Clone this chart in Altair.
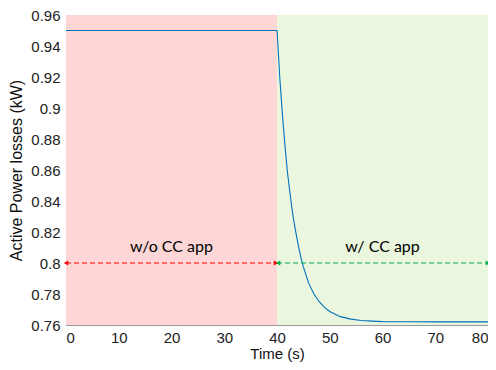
import altair as alt
import pandas as pd

# ---- data ----
time_s = [0, 40, 40.1, 40.5, 41, 41.5, 42, 42.5, 43, 43.5, 44, 44.5, 45, 46, 47, 48,
          49, 50, 52, 54, 56, 58, 60, 65, 70, 80]
loss_kw = [0.950, 0.950, 0.945, 0.921, 0.897, 0.876, 0.858, 0.844, 0.831, 0.821, 0.812,
           0.804, 0.7975, 0.787, 0.780, 0.775, 0.7714, 0.7687, 0.7654, 0.7638, 0.7629,
           0.7625, 0.7622, 0.7621, 0.762, 0.762]

region_start = [0, 40]
region_end = [40, 80]
region_color = ["#FFD6D6", "#EAF6DD"]
region_label = ["w/o CC app", "w/ CC app"]
label_x = [20, 60]
label_y = [0.8105, 0.8105]
arrow_color = ["#FF0000", "#00B050"]
arrow_y = 0.8

x_ticks = [0, 10, 20, 30, 40, 50, 60, 70, 80]
y_ticks = [0.76, 0.78, 0.80, 0.82, 0.84, 0.86, 0.88, 0.90, 0.92, 0.94, 0.96]

curve = pd.DataFrame({"t": time_s, "p": loss_kw})
regions = pd.DataFrame({"start": region_start, "end": region_end, "color": region_color,
                        "label": region_label, "lx": label_x, "ly": label_y,
                        "acolor": arrow_color})
heads = pd.DataFrame({
    "x": [0, 39.8, 40.2, 80],
    "shape": ["triangle-left", "triangle-right", "triangle-left", "triangle-right"],
    "color": [arrow_color[0], arrow_color[0], arrow_color[1], arrow_color[1]],
})

FONT = "Liberation Sans, Arial, Helvetica, sans-serif"
xs = alt.Scale(domain=[0, 80], nice=False, zero=False)
ys = alt.Scale(domain=[0.76, 0.96], nice=False, zero=False)


def x_axis():
    return alt.Axis(values=x_ticks, title="Time (s)", grid=True, ticks=False,
                    labelPadding=5, titlePadding=1, format="d", labelOverlap=False,
                    titleFontSize=15)


def y_axis():
    return alt.Axis(values=y_ticks, title="Active Power losses (kW)", grid=True,
                    ticks=False, labelPadding=6, titlePadding=6, format=".2~f",
                    labelOverlap=False, titleFontSize=16)


bg = alt.Chart(regions).mark_rect().encode(
    x=alt.X("start:Q", scale=xs, axis=x_axis()),
    x2="end:Q",
    y=alt.Y("y0:Q", scale=ys, axis=y_axis()),
    y2="y1:Q",
    color=alt.Color("color:N", scale=None),
).transform_calculate(y0="0.76", y1="0.96")

line = alt.Chart(curve).mark_line(color="#0072BD", strokeWidth=1.1).encode(
    x=alt.X("t:Q", scale=xs, axis=x_axis()),
    y=alt.Y("p:Q", scale=ys, axis=y_axis()),
)

arrows = alt.Chart(regions).mark_rule(strokeDash=[5, 3], strokeWidth=1.2).encode(
    x=alt.X("start:Q", scale=xs, axis=x_axis()),
    x2="end:Q",
    y=alt.Y("ay:Q", scale=ys, axis=y_axis()),
    color=alt.Color("acolor:N", scale=None),
).transform_calculate(ay=str(arrow_y))

arrowheads = alt.Chart(heads).mark_point(filled=True, size=26, opacity=1).encode(
    x=alt.X("x:Q", scale=xs, axis=x_axis()),
    y=alt.Y("ay:Q", scale=ys, axis=y_axis()),
    shape=alt.Shape("shape:N", scale=None),
    color=alt.Color("color:N", scale=None),
).transform_calculate(ay=str(arrow_y))

texts = alt.Chart(regions).mark_text(font="Lato", fontSize=16, color="#000",
                                     baseline="middle").encode(
    x=alt.X("lx:Q", scale=xs, axis=x_axis()),
    y=alt.Y("ly:Q", scale=ys, axis=y_axis()),
    text="label:N",
)

chart = alt.layer(bg, line, arrows, arrowheads, texts).properties(
    width=422, height=310,
    autosize=alt.AutoSizeParams(type="none"),
    padding={"left": 58, "top": 7, "right": 0, "bottom": 37},
).configure_view(
    stroke="#9A9A9A", strokeWidth=1
).configure_axis(
    labelFont=FONT, titleFont=FONT, labelFontSize=15,
    labelColor="#222", titleColor="#111", titleFontWeight="normal",
    domainColor="#9A9A9A", gridColor="#000", gridOpacity=0.09, zindex=1,
)

chart.save("out.html", embed_options={"renderer": "svg", "actions": False})
